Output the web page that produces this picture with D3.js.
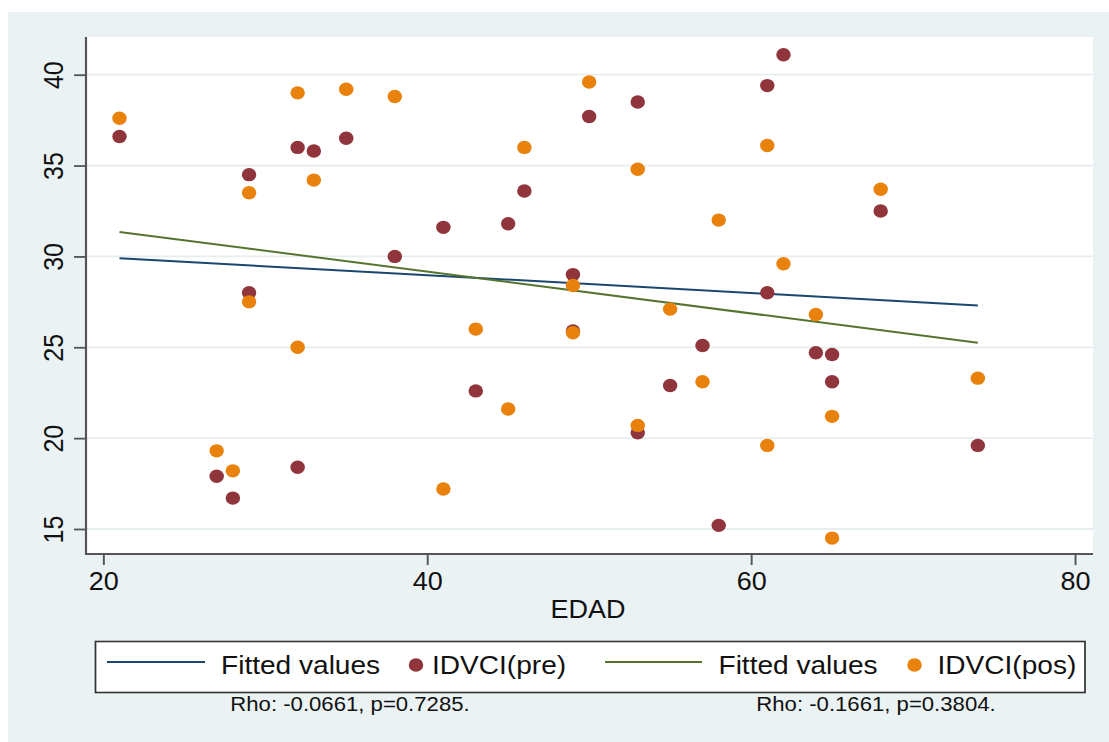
<!DOCTYPE html>
<html><head><meta charset="utf-8">
<script src="https://cdn.jsdelivr.net/npm/d3@7"></script>
<style>
body{margin:0;background:#fff;}
svg{display:block;}
text{font-family:"Liberation Sans",Arial,Helvetica,sans-serif;fill:#111;}
</style>
</head><body><div id="chart"></div>
<script>
// ---- data ----
const ages      = [21,27,28,29,29,32,32,33,35,38,41,43,45,46,49,49,50,53,53,55,57,58,61,61,62,64,65,65,68,74];
const preValues = [36.6,17.9,16.7,34.5,28.0,36.0,18.4,35.8,36.5,30.0,31.6,22.6,31.8,33.6,29.0,25.9,37.7,38.5,20.3,22.9,25.1,15.2,39.4,28.0,41.1,24.7,24.6,23.1,32.5,19.6];
const agesPos   = [21,27,28,29,29,32,32,33,35,38,41,43,45,46,49,49,50,53,53,55,57,58,61,61,62,64,65,65,68,74];
const posValues = [37.6,19.3,18.2,33.5,27.5,39.0,25.0,34.2,39.2,38.8,17.2,26.0,21.6,36.0,28.4,25.8,39.6,34.8,20.7,27.1,23.1,32.0,36.1,19.6,29.6,26.8,21.2,14.5,33.7,23.3];
const fitAges = [21, 74];
const fitPre  = [29.9, 27.3];
const fitPos  = [31.35, 25.25];
const xTicks = [20, 40, 60, 80];
const yTicks = [15, 20, 25, 30, 35, 40];
const xTitle = "EDAD";
const legendLabels = ["Fitted values", "IDVCI(pre)", "Fitted values", "IDVCI(pos)"];
const notes = ["Rho: -0.0661, p=0.7285.", "Rho: -0.1661, p=0.3804."];

// ---- layout ----
const W = 1109, H = 742, S = 1.08;
const X = p => p / S;
const C = { bg:"#eaf2f3", grid:"#e6eef0", axis:"#555", red:"#90353b", orange:"#e8820c", blue:"#1a476f", green:"#55752f" };

const svg = d3.select("#chart").append("svg")
  .attr("width", W).attr("height", H)
  .attr("viewBox", `0 0 ${W/S} ${H}`)
  .attr("preserveAspectRatio", "none");

svg.append("rect").attr("x", X(8)).attr("y", 12).attr("width", X(W-8)).attr("height", H-12).attr("fill", C.bg);
const L = 86, R = 1093, T = 37, B = 554;
svg.append("rect").attr("x", X(L)).attr("y", T).attr("width", X(R-L)).attr("height", B-T).attr("fill", "#fff");

const x = d3.scaleLinear().domain([20, 80]).range([X(103.3), X(1075)]);
const y = d3.scaleLinear().domain([15, 40]).range([529, 74.7]);

// grid
svg.append("g").selectAll("line").data(yTicks).join("line")
  .attr("x1", X(L)).attr("x2", X(R)).attr("y1", d => y(d)).attr("y2", d => y(d))
  .attr("stroke", C.grid).attr("stroke-width", 1.8);

// y axis
const gy = svg.append("g").attr("transform", `translate(${X(L)},0)`)
  .call(d3.axisLeft(y).tickValues(yTicks).tickSize(X(12)).tickSizeOuter(0));
gy.select(".domain").remove();
gy.selectAll(".tick line").attr("stroke", C.axis).attr("stroke-width", 1.8);
gy.selectAll(".tick text")
  .attr("x", null).attr("dy", null)
  .attr("transform", `translate(${X(63) - X(L)},0) rotate(-90)`)
  .attr("text-anchor", "middle").attr("font-size", 25).attr("fill", "#111");
svg.append("line").attr("x1", X(L)).attr("x2", X(L)).attr("y1", T).attr("y2", B+1)
  .attr("stroke", C.axis).attr("stroke-width", 2);

// x axis
const gx = svg.append("g").attr("transform", `translate(0,${B})`)
  .call(d3.axisBottom(x).tickValues(xTicks).tickSize(11).tickSizeOuter(0));
gx.select(".domain").remove();
gx.selectAll(".tick line").attr("stroke", C.axis).attr("stroke-width", 1.8);
gx.selectAll(".tick text").attr("y", 36).attr("dy", null)
  .attr("font-size", 25).attr("fill", "#111");
svg.append("line").attr("x1", X(L-1)).attr("x2", X(R)).attr("y1", B).attr("y2", B)
  .attr("stroke", C.axis).attr("stroke-width", 2);

svg.append("text").attr("x", X(588)).attr("y", 618).attr("text-anchor", "middle")
  .attr("font-size", 25).text(xTitle);

// series
const line = d3.line().x(d => x(d[0])).y(d => y(d[1]));
const plotG = svg.append("g");
plotG.append("path").datum(fitAges.map((a,i) => [a, fitPre[i]]))
  .attr("d", line).attr("fill", "none").attr("stroke", C.blue).attr("stroke-width", 2);
plotG.append("g").selectAll("circle").data(ages.map((a,i) => [a, preValues[i]])).join("circle")
  .attr("cx", d => x(d[0])).attr("cy", d => y(d[1])).attr("r", 6.7).attr("fill", C.red);
plotG.append("path").datum(fitAges.map((a,i) => [a, fitPos[i]]))
  .attr("d", line).attr("fill", "none").attr("stroke", C.green).attr("stroke-width", 2);
plotG.append("g").selectAll("circle").data(agesPos.map((a,i) => [a, posValues[i]])).join("circle")
  .attr("cx", d => x(d[0])).attr("cy", d => y(d[1])).attr("r", 6.7).attr("fill", C.orange);

// legend
svg.append("rect").attr("x", X(95.5)).attr("y", 641.5).attr("width", X(1085-95.5)).attr("height", 51)
  .attr("fill", "#fff").attr("stroke", "#333").attr("stroke-width", 1.6);
const lg = svg.append("g");
const items = [
  {type:"line", color:C.blue,   x1:107, x2:205, tx:221,   label:legendLabels[0]},
  {type:"dot",  color:C.red,    cx:416,           tx:432,   label:legendLabels[1]},
  {type:"line", color:C.green,  x1:605, x2:702, tx:718.5, label:legendLabels[2]},
  {type:"dot",  color:C.orange, cx:914.5,         tx:937.5, label:legendLabels[3]}
];
items.forEach(it => {
  if (it.type === "line") {
    lg.append("line").attr("x1", X(it.x1)).attr("x2", X(it.x2)).attr("y1", 662).attr("y2", 662)
      .attr("stroke", it.color).attr("stroke-width", 2);
  } else {
    lg.append("circle").attr("cx", X(it.cx)).attr("cy", 665).attr("r", 6.7).attr("fill", it.color);
  }
  lg.append("text").attr("x", X(it.tx)).attr("y", 674).attr("font-size", 26).text(it.label);
});

// notes
svg.append("g").selectAll("text").data(notes).join("text")
  .attr("x", (d,i) => X(i === 0 ? 350 : 876)).attr("y", 711)
  .attr("text-anchor", "middle").attr("font-size", 20.5).text(d => d);
</script>
</body></html>
